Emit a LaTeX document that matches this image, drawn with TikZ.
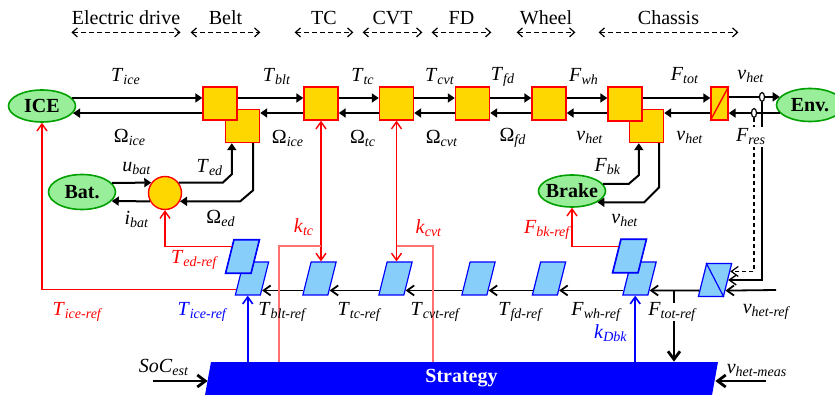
\documentclass[tikz,border=0pt]{standalone}
\usepackage{fontspec}
\setmainfont{Liberation Serif}
\usetikzlibrary{shapes.geometric, arrows.meta, calc}
\definecolor{gold}{HTML}{FFD700}
\definecolor{lgreen}{HTML}{99EE99}
\definecolor{dgreen}{HTML}{00A000}
\definecolor{skyblue}{HTML}{87CEFA}
\definecolor{pinkred}{HTML}{FF7070}
\newcommand{\sig}[2]{\textit{#1}\textsubscript{\textit{#2}}}
\newcommand{\gsig}[2]{#1\textsubscript{\textit{#2}}}

\begin{document}
\begin{tikzpicture}[x=0.5pt, y=-0.5pt, >={Straight Barb[length=3.5pt,width=5pt]},
          block/.style={rectangle, draw=red, fill=gold, line width=0.7pt, minimum width=17pt, minimum height=16.5pt, inner sep=0pt},
          unitnode/.style={ellipse, draw=dgreen, fill=lgreen, line width=0.8pt, minimum width=33.5pt, minimum height=16pt, inner sep=0pt, font=\bfseries},
          para/.style={rectangle, xslant=0.25, draw=blue, fill=skyblue, line width=0.6pt, minimum width=12.5pt, minimum height=16.5pt, inner sep=0pt},
          lbl/.style={inner sep=0pt},
          spanlbl/.style={inner sep=0pt, minimum height=14pt},
          spanarrow/.style={dash pattern=on 2.5pt off 1.5pt, line width=0.6pt, {Straight Barb[length=2.5pt,width=4.5pt]}-{Straight Barb[length=2.5pt,width=4.5pt]}},
          fwd/.style={-{Triangle[length=3.5pt,width=4.5pt]}, line width=1pt},
          refarrow/.style={->, line width=0.9pt},
          redline/.style={line width=0.7pt, draw=red},
          blueref/.style={->, line width=0.8pt, draw=blue},
          pinkline/.style={line width=0.6pt, draw=pinkred},
          bigref/.style={-{Straight Barb[length=4pt,width=6pt]}, line width=1.4pt},
          tap/.style={ellipse, draw, fill=white, line width=0.6pt, minimum width=2.5pt, minimum height=4.5pt, inner sep=0pt}]

        \useasboundingbox (0,0) rectangle (835,395);

        \node [spanlbl, minimum width=54pt] (sEd) at (126,18) {Electric drive};
        \node [spanlbl, minimum width=34.5pt] (sBelt) at (225.5,18) {Belt};
        \node [spanlbl, minimum width=29pt] (sTc) at (324,18) {TC};
        \node [spanlbl, minimum width=29.5pt] (sCvt) at (392.5,18) {CVT};
        \node [spanlbl, minimum width=29.5pt] (sFd) at (461.5,18) {FD};
        \node [spanlbl, minimum width=29pt] (sWheel) at (546,18) {Wheel};
        \node [spanlbl, minimum width=69.5pt] (sChassis) at (668.5,18) {Chassis};

        \draw [spanarrow] (sEd.south west) -- (sEd.south east);
        \draw [spanarrow] (sBelt.south west) -- (sBelt.south east);
        \draw [spanarrow] (sTc.south west) -- (sTc.south east);
        \draw [spanarrow] (sCvt.south west) -- (sCvt.south east);
        \draw [spanarrow] (sFd.south west) -- (sFd.south east);
        \draw [spanarrow] (sWheel.south west) -- (sWheel.south east);
        \draw [spanarrow] (sChassis.south west) -- (sChassis.south east);

        \node [unitnode] (ice) at (42,106) {ICE};
        \node [unitnode, minimum height=17.5pt] (bat) at (82,192) {Bat.};
        \node [unitnode] (brake) at (572,191) {\makebox[0pt]{Brake}};
        \node [unitnode, minimum height=16.5pt] (env) at (810,105) {Env.};
        \node [circle, draw=red, fill=gold, line width=0.7pt, minimum size=16.5pt, inner sep=0pt] (ed) at (165,193) {};

        \node [block] (blt2) at (242.5,126) {};
        \node [block] (blt1) at (220,103.5) {};
        \node [block] (tc) at (321,103.5) {};
        \node [block] (cvt) at (396.5,103.5) {};
        \node [block] (fd) at (472.5,103.5) {};
        \node [block] (wh) at (549,103.5) {};
        \node [block] (ch2) at (646.5,126) {};
        \node [block] (ch1) at (625,104) {};
        \node [block, minimum width=8.5pt] (conv) at (719.5,103.5) {};
        \draw [red, line width=0.6pt] (blt1.south west) rectangle (blt1.north east);
        \draw [red, line width=0.6pt] (ch1.south west) rectangle (ch1.north east);
        \draw [red, line width=0.7pt] (conv.south west) -- (conv.north east);

        \node [para] (bltR2) at (252,278.5) {};
        \node [para] (bltR1) at (242.5,256.5) {};
        \node [para] (tcR) at (319.5,278.5) {};
        \node [para] (cvtR) at (395.5,278.5) {};
        \node [para] (fdR) at (478.5,278.5) {};
        \node [para] (whR) at (549,278.5) {};
        \node [para] (chR2) at (639.5,278.5) {};
        \node [para] (chR1) at (629.5,256) {};
        \node [para] (convR) at (715,280) {};
        \draw [blue, line width=0.5pt] (bltR1.south west) -- (bltR1.south east) -- (bltR1.north east) -- (bltR1.north west) -- cycle;
        \draw [blue, line width=0.5pt] (chR1.south west) -- (chR1.south east) -- (chR1.north east) -- (chR1.north west) -- cycle;
        \draw [blue, line width=0.6pt] (convR.north west) -- (convR.south east);

        \node [rectangle, xslant=0.18, fill=blue, minimum width=253.5pt, minimum height=16.5pt, inner sep=0pt] (strat) at (461.5,378.5) {};
        \node [text=white, font=\bfseries] (stratlbl) at (strat.center) {Strategy};

        \coordinate (hi) at (0,98);
        \coordinate (lo) at (0,113);
        \draw [fwd] (ice.15) -- (blt1.west |- ice.15);
        \draw [fwd] (blt1.west |- ice.-13) -- (ice.-13);
        \draw [fwd] (blt1.east |- hi) -- (tc.west |- hi);
        \draw [fwd] (tc.west |- lo) -- (blt2.east |- lo);
        \draw [fwd] (tc.east |- hi) -- (cvt.west |- hi);
        \draw [fwd] (cvt.west |- lo) -- (tc.east |- lo);
        \draw [fwd] (cvt.east |- hi) -- (fd.west |- hi);
        \draw [fwd] (fd.west |- lo) -- (cvt.east |- lo);
        \draw [fwd] (fd.east |- hi) -- (wh.west |- hi);
        \draw [fwd] (wh.west |- lo) -- (fd.east |- lo);
        \draw [fwd] (wh.east |- hi) -- (ch1.west |- hi);
        \draw [fwd] (ch1.west |- lo) -- (wh.east |- lo);
        \draw [fwd] (ch1.east |- hi) -- (conv.west |- hi);
        \draw [fwd] (conv.west |- lo) -- (ch2.east |- lo);
        \draw [fwd] (conv.east |- env.165) -- (env.165);
        \draw [fwd] (env.195) -- (conv.east |- env.195);

        \draw [fwd] (bat.17) -- (ed.143);
        \draw [fwd] (ed.-151) -- (bat.-17);
        \draw [fwd] (ed.37) -- ($(blt2.south west |- ed.37)+(-2,0)$) -- ($(blt2.south west)+(7,31)$) -- ($(blt2.south west)+(7,0)$);
        \draw [fwd] ($(blt2.south east)+(-7,0)$) -- ($(blt2.south east)+(-7,47)$) -- ($(blt2.south east |- ed.-29)+(-20,0)$) -- (ed.-29);
        \draw [fwd] (brake.13) -- (ch2.south west |- brake.13) -- ($(ch2.south west)+(10,32)$) -- ($(ch2.south west)+(10,0)$);
        \draw [fwd] ($(ch2.south east)+(-5,0)$) -- ($(ch2.south east)+(-5,44)$) -- ($(ch2.south east |- brake.-24)+(-20,0)$) -- (brake.-24);

        \node [tap] (tapV) at (762,97) {};
        \node [tap] (tapF) at (754,113) {};
        \draw [refarrow, line width=0.7pt] (tapV.south) |- (convR.east);
        \draw [refarrow, line width=0.6pt, dash pattern=on 2pt off 1.5pt] (tapF.south) |- ($(convR.south east)!.75!(convR.north east)$);

        \coordinate (vref) at (776,290);
        \draw [refarrow] (vref) -- ($(convR.south east)!.19!(convR.north east)$);
        \draw [refarrow] ($(convR.south west)!.19!(convR.north west)$) -- ($(chR2.south east)!.15!(chR2.north east)$);
        \draw [refarrow] ($(chR2.south west)!.15!(chR2.north west)$) -- ($(whR.south east)!.15!(whR.north east)$);
        \draw [refarrow] ($(whR.south west)!.15!(whR.north west)$) -- ($(fdR.south east)!.15!(fdR.north east)$);
        \draw [refarrow] ($(fdR.south west)!.15!(fdR.north west)$) -- ($(cvtR.south east)!.15!(cvtR.north east)$);
        \draw [refarrow] ($(cvtR.south west)!.15!(cvtR.north west)$) -- ($(tcR.south east)!.15!(tcR.north east)$);
        \draw [refarrow] ($(tcR.south west)!.15!(tcR.north west)$) -- ($(bltR2.south east)!.15!(bltR2.north east)$);

        \draw [redline, ->] ($(bltR2.south west)!.18!(bltR2.north west)$) -| (ice.south);
        \draw [redline, ->] ($(bltR1.south west)!.79!(bltR1.north west)$) -| (ed.south);
        \draw [redline, ->] ($(chR1.south west)!.78!(chR1.north west)$) -| (brake.south);
        \draw [redline, <->] (tc.south) -- (tc.south |- tcR.north);
        \draw [redline, <->] (cvt.south) -- (cvt.south |- cvtR.north);
        \coordinate (ktc) at (tc.south |- 0,246);
        \coordinate (kcvt) at (cvt.south |- 0,246);
        \draw [pinkline] (strat.north -| 279,0) |- (ktc);
        \draw [pinkline] (strat.north -| 433,0) |- (kcvt);

        \draw [blueref] (strat.north -| bltR2.south) -- (bltR2.south);
        \draw [blueref] (strat.north -| chR2.south) -- (chR2.south);

        \coordinate (ftot) at (674,290);
        \draw [line width=0.6pt] (ftot) -- ++(0,13);
        \draw [bigref] (ftot |- 0,321) -- (strat.north -| ftot);
        \coordinate (socin) at (153,381);
        \draw [bigref] (socin) -- (strat.west |- socin);
        \coordinate (vmeas) at (766,381);
        \draw [bigref] (vmeas) -- (strat.east |- vmeas);

        \node [lbl] (lTice) at (126,77) {\sig{T}{ice}};
        \node [lbl] (lWice) at (130,137) {\gsig{Ω}{ice}};
        \node [lbl] (lTblt) at (277,77) {\sig{T}{blt}};
        \node [lbl] (lWblt) at (288,138) {\gsig{Ω}{ice}};
        \node [lbl] (lTtc) at (363,77) {\sig{T}{tc}};
        \node [lbl] (lWtc) at (363,138) {\gsig{Ω}{tc}};
        \node [lbl] (lTcvt) at (440,77) {\sig{T}{cvt}};
        \node [lbl] (lWcvt) at (442,138) {\gsig{Ω}{cvt}};
        \node [lbl] (lTfd) at (503,77) {\sig{T}{fd}};
        \node [lbl] (lWfd) at (513,138) {\gsig{Ω}{fd}};
        \node [lbl] (lFwh) at (584,77) {\sig{F}{wh}};
        \node [lbl] (lvwh) at (590,137) {\sig{v}{het}};
        \node [lbl] (lFtot) at (685,76) {\sig{F}{tot}};
        \node [lbl] (lvch) at (690,137) {\sig{v}{het}};
        \node [lbl] (lvenv) at (751,76) {\sig{v}{het}};
        \node [lbl, fill=white, inner sep=1pt] (lFres) at (751,137) {\sig{F}{res}};
        \node [lbl] (lubat) at (137,168) {\sig{u}{bat}};
        \node [lbl] (lTed) at (210,168) {\sig{T}{ed}};
        \node [lbl] (libat) at (137,219) {\sig{i}{bat}};
        \node [lbl] (lWed) at (221,218) {\gsig{Ω}{ed}};
        \node [lbl] (lFbk) at (608,167) {\sig{F}{bk}};
        \node [lbl] (lvbk) at (625,220) {\sig{v}{het}};
        \node [lbl, text=red] (lTedref) at (195,260) {\sig{T}{ed-ref}};
        \node [lbl, text=red] (lTiceref) at (78,312) {\sig{T}{ice-ref}};
        \node [lbl, text=red] (lktc) at (304,227) {\sig{k}{tc}};
        \node [lbl, text=red] (lkcvt) at (429,228) {\sig{k}{cvt}};
        \node [lbl, text=red] (lFbkref) at (548,230) {\sig{F}{bk-ref}};
        \node [lbl, text=blue] (lTiceblue) at (203,312) {\sig{T}{ice-ref}};
        \node [lbl, text=blue] (lkDbk) at (611,333) {\sig{k}{Dbk}};
        \node [lbl] (lTbltref) at (283,312) {\sig{T}{blt-ref}};
        \node [lbl] (lTtcref) at (360,312) {\sig{T}{tc-ref}};
        \node [lbl] (lTcvtref) at (436,312) {\sig{T}{cvt-ref}};
        \node [lbl] (lTfdref) at (521,312) {\sig{T}{fd-ref}};
        \node [lbl] (lFwhref) at (597,312) {\sig{F}{wh-ref}};
        \node [lbl] (lFtotref) at (673,312) {\sig{F}{tot-ref}};
        \node [lbl] (lvref) at (767,312) {\sig{v}{het-ref}};
        \node [lbl] (lSoC) at (164,367) {\sig{SoC}{est}};
        \node [lbl] (lvmeas) at (757,370) {\sig{v}{het-meas}};
      \end{tikzpicture}
\end{document}
